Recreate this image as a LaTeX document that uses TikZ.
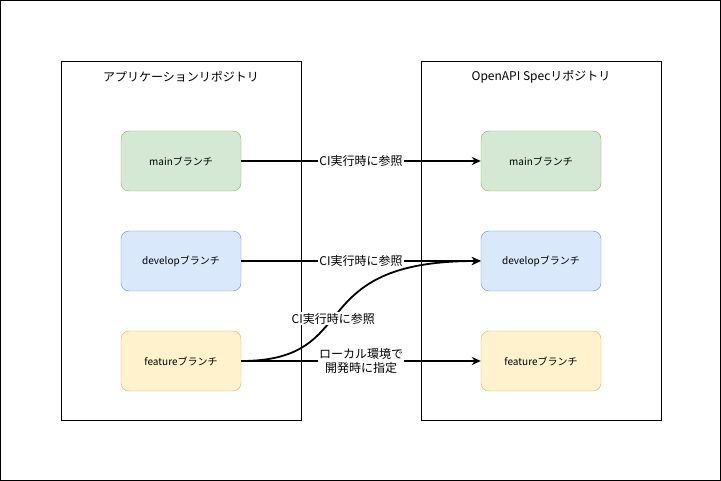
\documentclass[tikz,border=0pt]{standalone}
\usepackage{fontspec}
\setmainfont{Noto Sans CJK JP}
\usetikzlibrary{arrows.meta}
\begin{document}
\begin{tikzpicture}
    [x=1pt,y=-1pt,
    repo/.style = {draw=black, fill=white, minimum width=240pt, minimum height=359pt, anchor=north west},
    branch/.style = {draw, rounded corners=8pt, minimum width=120pt, minimum height=60pt, font=\fontsize{10}{12}\selectfont},
    mainbr/.style = {branch, fill={rgb,255:red,213;green,232;blue,212}, draw={rgb,255:red,130;green,179;blue,102}},
    devbr/.style = {branch, fill={rgb,255:red,218;green,232;blue,252}, draw={rgb,255:red,108;green,142;blue,191}},
    featbr/.style = {branch, fill={rgb,255:red,255;green,242;blue,204}, draw={rgb,255:red,214;green,182;blue,86}},
    ref/.style = {-{Stealth[length=9pt,width=8pt]}, line width=1.5pt},
    lbl/.style = {fill=white, inner sep=1pt, font=\fontsize{12}{14}\selectfont, align=center}]
    \draw[line width=1pt] (0.5,0.5) rectangle (720.5,480.5);
    % Repositories
    \node[repo] (app) at (61,61) {};
    \node[repo] (spec) at (421,61) {};
    \node[font=\fontsize{12}{14}\selectfont] at (181,77) {アプリケーションリポジトリ};
    \node[font=\fontsize{12}{14}\selectfont] at (541,77) {OpenAPI Specリポジトリ};
    % Branches
    \node[mainbr] (amain) at (181,161) {mainブランチ};
    \node[devbr] (adev) at (181,261) {developブランチ};
    \node[featbr] (afeat) at (181,361) {featureブランチ};
    \node[mainbr] (smain) at (541,161) {mainブランチ};
    \node[devbr] (sdev) at (541,261) {developブランチ};
    \node[featbr] (sfeat) at (541,361) {featureブランチ};
    % Connectors
    \draw[ref] (amain) -- node[lbl] {CI実行時に参照} (smain);
    \draw[ref] (adev) -- node[lbl] {CI実行時に参照} (sdev);
    \draw[ref, line width=1.8pt] (afeat.east) .. controls (365,361) and (300,261) .. node[lbl,pos=0.45] {CI実行時に参照} (sdev.west);
    \draw[ref, line width=2pt] (afeat) -- node[lbl] {ローカル環境で\\開発時に指定} (sfeat);
\end{tikzpicture}
\end{document}
